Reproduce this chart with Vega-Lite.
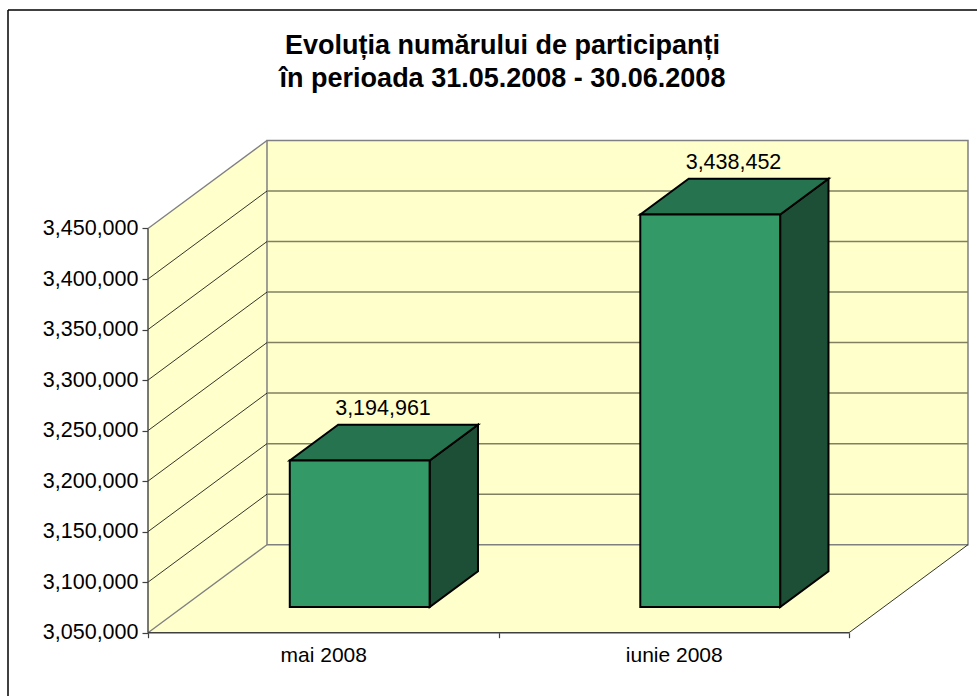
{
"$schema":"https://vega.github.io/schema/vega-lite/v6.json",
"width":969,"height":686,
"autosize":{"type":"none"},
"padding":{"left":8,"top":10,"right":0,"bottom":0},
"background":"white",
"config":{"view":{"stroke":null},"font":"Liberation Sans"},
"title":{"text":["Evoluția numărului de participanți","în perioada 31.05.2008 - 30.06.2008"],"anchor":"middle","frame":"group","dx":10,"offset":-84,"lineHeight":33,"font":"Liberation Sans","fontSize":27,"fontWeight":"bold","color":"black"},
"datasets":{
"bars":[{"month":"mai 2008","slot":0,"participants":3194961},{"month":"iunie 2008","slot":1,"participants":3438452}],
"depth":[{"d":0},{"d":1}],
"ticks":[{"tick":3050000},{"tick":3100000},{"tick":3150000},{"tick":3200000},{"tick":3250000},{"tick":3300000},{"tick":3350000},{"tick":3400000},{"tick":3450000}]
},
"layer":[
{"data":{"name":"depth"},
 "transform":[{"calculate":"datum.d*0.3395","as":"px"},{"calculate":"3050000+datum.d*87085","as":"low"},{"calculate":"3450000+datum.d*87085","as":"high"}],
 "mark":{"type":"area","fill":"#FFFFCC","orient":"vertical"},
 "encoding":{
  "x":{"field":"px","type":"quantitative","scale":{"domain":[-0.39943,2.36519],"nice":false,"zero":false},
   "axis":{"title":null,"grid":false,"domain":false,"orient":"bottom","offset":-63.3,"values":[0,0.5,1,1.5,2],"tickSize":5,"tickColor":"#404040","tickWidth":1.2,
    "tickOpacity":{"condition":{"test":"datum.value===0.5||datum.value===1.5","value":0},"value":1},
    "labelExpr":"datum.value===0.5?'mai 2008':datum.value===1.5?'iunie 2008':''","labelFontSize":21,"labelColor":"black","labelPadding":7,"labelOverlap":false,"labelFont":"Liberation Sans","labelBound":false,"labelFlush":false}},
  "y":{"field":"low","type":"quantitative","scale":{"domain":[2987359,3666224],"nice":false,"zero":false},
   "axis":{"title":null,"grid":false,"domain":false,"orient":"left","offset":-140,"values":[3050000,3100000,3150000,3200000,3250000,3300000,3350000,3400000,3450000],"labelExpr":"format(datum.value,',')","tickSize":6,"tickColor":"#404040","tickWidth":1.2,"labelFontSize":21.5,"labelColor":"black","labelPadding":4,"labelFont":"Liberation Sans","labelOverlap":false}},
  "y2":{"field":"high"}
 }},
{"data":{"name":"depth"},
 "transform":[{"calculate":"datum.d*0.3395","as":"px"},{"calculate":"2+datum.d*0.3395","as":"px2"},{"calculate":"3050000+datum.d*87085","as":"low"}],
 "mark":{"type":"area","fill":"#FFFFCC","orient":"horizontal"},
 "encoding":{
  "x":{"field":"px","type":"quantitative","scale":{"domain":[-0.39943,2.36519],"nice":false,"zero":false}},
  "x2":{"field":"px2"},
  "y":{"field":"low","type":"quantitative","scale":{"domain":[2987359,3666224],"nice":false,"zero":false}}
 }},
{"data":{"values":[{"left":0.3395,"right":2.3395,"bottom":3137085,"top":3537085}]},
 "mark":{"type":"rect","fill":"#FFFFCC","stroke":"#808080","strokeWidth":1.5},
 "encoding":{
  "x":{"field":"left","type":"quantitative","scale":{"domain":[-0.39943,2.36519],"nice":false,"zero":false}},
  "x2":{"field":"right"},
  "y":{"field":"bottom","type":"quantitative","scale":{"domain":[2987359,3666224],"nice":false,"zero":false}},
  "y2":{"field":"top"}
 }},
{"data":{"name":"ticks"},
 "transform":[{"filter":"datum.tick>3050000&&datum.tick<3450000"},{"calculate":"datum.tick+87085","as":"back"}],
 "mark":{"type":"rule","stroke":"#808060","strokeWidth":1.5},
 "encoding":{
  "x":{"datum":0.3395,"type":"quantitative","scale":{"domain":[-0.39943,2.36519],"nice":false,"zero":false}},
  "x2":{"datum":2.3395},
  "y":{"field":"back","type":"quantitative","scale":{"domain":[2987359,3666224],"nice":false,"zero":false}}
 }},
{"data":{"name":"ticks"},
 "transform":[{"filter":"datum.tick>3050000&&datum.tick<3450000"},{"calculate":"datum.tick+87085","as":"back"}],
 "mark":{"type":"rule","stroke":"black","strokeWidth":0.8},
 "encoding":{
  "x":{"datum":0,"type":"quantitative","scale":{"domain":[-0.39943,2.36519],"nice":false,"zero":false}},
  "x2":{"datum":0.3395},
  "y":{"field":"tick","type":"quantitative","scale":{"domain":[2987359,3666224],"nice":false,"zero":false}},
  "y2":{"field":"back"}
 }},
{"data":{"name":"ticks"},
 "transform":[{"filter":"datum.tick===3050000||datum.tick===3450000"},{"calculate":"datum.tick+87085","as":"back"}],
 "mark":{"type":"rule","stroke":"#808080","strokeWidth":1.4},
 "encoding":{
  "x":{"datum":0,"type":"quantitative","scale":{"domain":[-0.39943,2.36519],"nice":false,"zero":false}},
  "x2":{"datum":0.3395},
  "y":{"field":"tick","type":"quantitative","scale":{"domain":[2987359,3666224],"nice":false,"zero":false}},
  "y2":{"field":"back"}
 }},
{"data":{"values":[{"tick":3050000,"back":3137085}]},
 "mark":{"type":"rule","stroke":"black","strokeWidth":0.8},
 "encoding":{
  "x":{"datum":2,"type":"quantitative","scale":{"domain":[-0.39943,2.36519],"nice":false,"zero":false}},
  "x2":{"datum":2.3395},
  "y":{"field":"tick","type":"quantitative","scale":{"domain":[2987359,3666224],"nice":false,"zero":false}},
  "y2":{"field":"back"}
 }},
{"data":{"values":[{"tick":3050000}]},
 "mark":{"type":"rule","stroke":"#404040","strokeWidth":1.4},
 "encoding":{
  "x":{"datum":0,"type":"quantitative","scale":{"domain":[-0.39943,2.36519],"nice":false,"zero":false}},
  "x2":{"datum":2},
  "y":{"field":"tick","type":"quantitative","scale":{"domain":[2987359,3666224],"nice":false,"zero":false}}
 }},
{"data":{"values":[{"low":3050000,"high":3450000}]},
 "mark":{"type":"rule","stroke":"#404040","strokeWidth":1.4},
 "encoding":{
  "x":{"datum":0,"type":"quantitative","scale":{"domain":[-0.39943,2.36519],"nice":false,"zero":false}},
  "y":{"field":"low","type":"quantitative","scale":{"domain":[2987359,3666224],"nice":false,"zero":false}},
  "y2":{"field":"high"}
 }},
{"data":{"name":"bars"},
 "transform":[{"calculate":"0.292","as":"front"},{"calculate":"0.698","as":"back"},{"fold":["front","back"],"as":["face","depth"]},{"calculate":"datum.slot+0.7045+datum.depth*0.3395","as":"px"},{"calculate":"datum.participants+datum.depth*87085","as":"py"},{"calculate":"3050000+datum.depth*87085","as":"base"}],
 "mark":{"type":"area","fill":"#1C4F35","stroke":"black","strokeWidth":2,"orient":"vertical"},
 "encoding":{
  "detail":{"field":"month"},
  "x":{"field":"px","type":"quantitative","scale":{"domain":[-0.39943,2.36519],"nice":false,"zero":false}},
  "y":{"field":"py","type":"quantitative","scale":{"domain":[2987359,3666224],"nice":false,"zero":false}},
  "y2":{"field":"base"}
 }},
{"data":{"name":"bars"},
 "transform":[{"calculate":"0.292","as":"front"},{"calculate":"0.698","as":"back"},{"fold":["front","back"],"as":["face","depth"]},{"calculate":"datum.slot+0.3055+datum.depth*0.3395","as":"px"},{"calculate":"datum.slot+0.7045+datum.depth*0.3395","as":"px2"},{"calculate":"datum.participants+datum.depth*87085","as":"py"}],
 "mark":{"type":"area","fill":"#267350","stroke":"black","strokeWidth":2,"orient":"horizontal"},
 "encoding":{
  "detail":{"field":"month"},
  "x":{"field":"px","type":"quantitative","scale":{"domain":[-0.39943,2.36519],"nice":false,"zero":false}},
  "x2":{"field":"px2"},
  "y":{"field":"py","type":"quantitative","scale":{"domain":[2987359,3666224],"nice":false,"zero":false}}
 }},
{"data":{"name":"bars"},
 "transform":[{"calculate":"datum.slot+0.4045","as":"px"},{"calculate":"datum.slot+0.8035","as":"px2"},{"calculate":"datum.participants+25429","as":"py"},{"calculate":"3075429","as":"base"}],
 "mark":{"type":"rect","fill":"#339966","stroke":"black","strokeWidth":2},
 "encoding":{
  "x":{"field":"px","type":"quantitative","scale":{"domain":[-0.39943,2.36519],"nice":false,"zero":false}},
  "x2":{"field":"px2"},
  "y":{"field":"py","type":"quantitative","scale":{"domain":[2987359,3666224],"nice":false,"zero":false}},
  "y2":{"field":"base"}
 }},
{"data":{"name":"bars"},
 "transform":[{"calculate":"datum.slot+0.6705","as":"px"},{"calculate":"datum.participants+60785","as":"py"}],
 "mark":{"type":"text","baseline":"alphabetic","dy":-9.5,"fontSize":21.5,"color":"black","font":"Liberation Sans"},
 "encoding":{
  "text":{"field":"participants","type":"quantitative","format":","},
  "x":{"field":"px","type":"quantitative","scale":{"domain":[-0.39943,2.36519],"nice":false,"zero":false}},
  "y":{"field":"py","type":"quantitative","scale":{"domain":[2987359,3666224],"nice":false,"zero":false}}
 }},
{"data":{"values":[{"edge":-0.39943}]},
 "mark":{"type":"rule","stroke":"black","strokeWidth":1.5},
 "encoding":{"x":{"field":"edge","type":"quantitative","scale":{"domain":[-0.39943,2.36519],"nice":false,"zero":false}}}},
{"data":{"values":[{"edge":3666224}]},
 "mark":{"type":"rule","stroke":"black","strokeWidth":1.5},
 "encoding":{"y":{"field":"edge","type":"quantitative","scale":{"domain":[2987359,3666224],"nice":false,"zero":false}}}}
]
}
